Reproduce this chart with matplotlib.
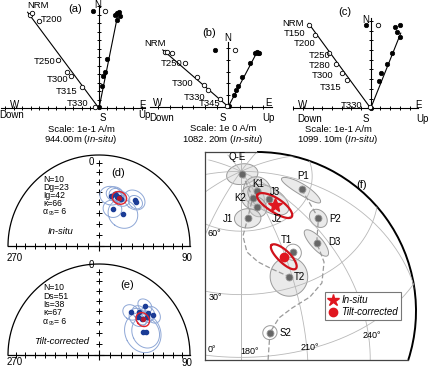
import numpy as np
import matplotlib
matplotlib.use("Agg")
import matplotlib.pyplot as plt
from matplotlib.patches import Arc, Circle
from matplotlib.lines import Line2D

plt.rcParams["font.family"] = ["Liberation Sans", "DejaVu Sans"]
plt.rcParams["mathtext.fontset"] = "custom"
plt.rcParams["mathtext.rm"] = "Liberation Sans"
plt.rcParams["mathtext.it"] = "Liberation Sans:italic"
plt.rcParams["mathtext.bf"] = "Liberation Sans:bold"

W, H = 429, 372

# ---------------- Zijderveld data (units = one axis tick) ----------------
# (a) 944.00 m
a_h_e = [-0.67, 1.88, 2.15, 2.39, 2.47, 2.08, 0.91, 0.71, 0.51, 0.32, 0.0]
a_h_n = [11.45, 10.94, 11.26, 11.38, 10.86, 10.39, 5.76, 4.32, 3.80, 2.62, 0.12]
a_v_up = [0.71, -8.12, -7.85, -7.06, -4.79, -3.73, -3.29, -2.04, -0.47]
a_v_n = [11.45, 10.98, 11.26, 10.32, 5.68, 4.32, 3.80, 2.47, 0.20]
a_fit_h = [2.25, 11.2]
a_fit_v = [-8.4, 11.3]
a_steps = ["NRM", "T200", "T250", "T300", "T315", "T330"]

# (b) 1082.20 m
b_h_e = [-1.14, 2.28, 2.42, 2.56, 2.65, 1.85, 1.14, 0.79, 0.66, 0.49, 0.09]
b_h_n = [4.85, 4.56, 4.70, 4.62, 4.56, 3.70, 2.56, 1.77, 1.43, 1.00, 0.06]
b_v_up = [0.57, -5.41, -5.21, -4.79, -3.70, -2.71, -2.05, -1.71, -0.71, -0.09]
b_v_n = [4.85, 4.70, 4.70, 4.62, 3.76, 2.50, 1.85, 1.43, 0.62, 0.06]
b_fit_h = [2.5, 4.75]
b_fit_v = [-5.6, 4.85]
b_steps = ["NRM", "T250", "T300", "T330", "T345"]

# (c) 1099.10 m
c_h_e = [-0.48, 2.51, 3.02, 2.75, 3.02, 2.16, 1.65, 1.03, 0.82, 0.0]
c_h_n = [8.59, 8.35, 8.59, 7.84, 7.39, 5.67, 4.57, 3.61, 2.86, 0.0]
c_v_up = [0.72, -6.32, -5.74, -4.26, -3.58, -2.99, -2.47, -0.07]
c_v_n = [8.59, 8.59, 7.56, 5.67, 4.57, 3.68, 2.92, 0.10]
c_fit_h = [3.1, 7.75]
c_fit_v = [-6.4, 8.75]
c_steps = ["NRM", "T150", "T200", "T250", "T280", "T300", "T315", "T330"]

# ---------------- site-mean directions ----------------
d_dec = [13.2, 16.9, 18.8, 22.4, 37.6, 39.8, 19.9, 36.7, 20.4, 25.4]
d_inc = [42.5, 40.0, 40.1, 41.6, 36.1, 37.3, 54.1, 53.5, 42.2, 42.0]
d_a95 = [9, 7, 6, 5, 9, 6, 8, 13, 5, 7]
d_stats = ["N=10", "Dg=23", "Ig=42", "\u03ba=66"]
d_mean = (23, 42, 6)

e_dec = [36.9, 43.4, 43.0, 49.8, 53.1, 51.2, 62.9, 64.3, 49.8, 46.2]
e_inc = [41.0, 35.8, 26.8, 29.8, 27.0, 33.1, 44.5, 42.2, 38.6, 40.0]
e_a95 = [7, 6, 6, 6, 7, 5, 17, 13, 5, 8]
e_stats = ["N=10", "Ds=51", "Is=38", "\u03ba=67"]
e_mean = (51, 38, 6)

# ---------------- VGPs / reference poles ----------------
pole_names = ["Q-E", "K1", "K2", "J3", "J2", "J1", "P1", "P2", "D3", "T1", "T2", "S2"]
pole_lat = [88.5, 77.7, 75.6, 71.8, 70.8, 66.1, 63.4, 50.9, 43.6, 45.0, 35.2, 11.2]
pole_lon = [200.0, 215.2, 201.2, 222.7, 202.6, 187.5, 260.2, 246.2, 233.3, 216.0, 208.2, 193.6]
pole_a = [6.7, 7.5, 6.0, 10.0, 5.0, 6.0, 9.5, 4.3, 7.5, 3.8, 9.0, 3.3]
pole_b = [5.3, 6.0, 5.0, 6.0, 4.0, 4.7, 2.8, 4.0, 3.0, 3.8, 9.0, 3.3]
pole_rot = [90, 30, 0, -20, 0, 90, 8, 0, -9, 0, 0, 0]
pole_fill = [1, 1, 1, 1, 1, 1, 1, 1, 1, 0, 1, 0]

study_lat = [68.0, 44.7]      # in-situ, tilt-corrected
study_lon = [224.2, 209.0]
study_a = [9.0, 7.8]
study_b = [3.5, 2.9]
study_rot = [-19, -28]

apwp1_lat = [88.5, 75.6, 66.1, 57.7, 50.0, 44.9, 40.6, 35.2]
apwp1_lon = [200.0, 201.2, 187.5, 181.7, 184.3, 191.3, 199.3, 208.2]
apwp2_lat = [63.4, 50.9, 43.6, 34.7, 27.0, 23.3, 20.8, 17.5, 11.2, -1.9]
apwp2_lon = [260.2, 246.2, 233.3, 230.8, 224.6, 216.1, 205.8, 198.6, 193.6, 192.1]

fig = plt.figure(figsize=(W / 100, H / 100), dpi=100)


def px_axes(l, t, r, b):
    return fig.add_axes([l / W, 1 - b / H, (r - l) / W, (b - t) / H])


def ftext(x, y, s, **kw):
    kw.setdefault("ha", "center")
    kw.setdefault("va", "center")
    kw.setdefault("fontsize", 7)
    fig.text(x / W, 1 - y / H, s, **kw)


def zijderveld(box, origin, sp, xext, ytop, h_e, h_n, v_up, v_n, fit_h, fit_v):
    l, t, r, b = box
    ax = px_axes(l, t, r, b)
    ox, oy = origin
    ax.set_xlim((l - ox) / sp, (r - ox) / sp)
    ax.set_ylim((oy - b) / sp, (oy - t) / sp)
    ax.axis("off")
    ax.plot(xext, [0, 0], color="k", lw=0.8)
    ax.plot([0, 0], [0, ytop], color="k", lw=0.8)
    xt = [i for i in range(int(np.ceil(xext[0])), int(np.floor(xext[1])) + 1) if i != 0]
    ax.plot(xt, np.zeros(len(xt)), ls="none", marker="|", ms=3.5, mew=0.7, color="k")
    yt = np.arange(1, int(np.floor(ytop)) + 1)
    ax.plot(np.zeros(len(yt)), yt, ls="none", marker="_", ms=3.5, mew=0.7, color="k")
    ax.plot([0, fit_h[0]], [0, fit_h[1]], color="k", lw=0.8)
    ax.plot([0, fit_v[0]], [0, fit_v[1]], color="k", lw=0.8)
    ax.plot(h_e, h_n, ls="none", marker="o", ms=3.2, mfc="k", mec="k", mew=0.5)
    ax.plot(v_up, v_n, ls="none", marker="o", ms=3.2, mfc="white", mec="k", mew=0.6)
    return ax


# panel (a)
zijderveld((0, 0, 150, 125), (99, 108.3), 8.5, [-11.5, 5.4], 12.15,
           a_h_e, a_h_n, a_v_up, a_v_n, a_fit_h, a_fit_v)
for s, x, y in zip(a_steps, [38, 52, 45, 58, 67, 78], [6, 20, 62, 80, 91, 104]):
    ftext(x, y, s, fontsize=6.8)
ftext(75, 9, "(a)", fontsize=8)
ftext(98, 5, "N")
ftext(15, 105, "W"); ftext(12, 115, "Down")
ftext(142, 105, "E"); ftext(144, 115, "Up"); ftext(103, 118, "S")
ftext(81, 129, "Scale: 1e-1 A/m", fontsize=6.8)
ftext(81, 139.5, r"944.00m ($\it{In}$-$\it{situ}$)", fontsize=6.8)

# panel (b)
zijderveld((140, 0, 290, 125), (228.3, 106.7), 11.7, [-6.7, 3.7], 5.55,
           b_h_e, b_h_n, b_v_up, b_v_n, b_fit_h, b_fit_v)
for s, x, y in zip(b_steps, [155, 172, 183, 195, 210], [43, 64, 84, 97, 104]):
    ftext(x, y, s, fontsize=6.8)
ftext(209, 33, "(b)", fontsize=8)
ftext(228, 38, "N")
ftext(158, 103, "W"); ftext(162, 118, "Down")
ftext(268, 103, "E"); ftext(268, 118, "Up"); ftext(223, 118, "S")
ftext(223, 128.5, "Scale: 1e 0 A/m", fontsize=6.8)
ftext(223, 139, r"1082. 20m ($\it{In}$-$\it{situ}$)", fontsize=6.8)

# panel (c)
zijderveld((280, 0, 429, 125), (370.7, 108.3), 9.7, [-8.0, 4.9], 9.3,
           c_h_e, c_h_n, c_v_up, c_v_n, c_fit_h, c_fit_v)
for s, x, y in zip(c_steps, [293, 295, 305, 320, 320, 323, 331, 352],
                   [23, 33, 43, 55, 66, 76, 87, 105]):
    ftext(x, y, s, fontsize=6.8)
ftext(345, 12, "(c)", fontsize=8)
ftext(366, 20, "N")
ftext(303, 105, "W"); ftext(310, 119, "Down")
ftext(419, 105, "E"); ftext(422, 119, "Up"); ftext(366, 119, "S")
ftext(338, 129, "Scale: 1e-1 A/m", fontsize=6.8)
ftext(338, 139.5, r"1099. 10m ($\it{In}$-$\it{situ}$)", fontsize=6.8)


# ---------------- equal-area stereonets ----------------
def ea(dec, inc):
    dec, inc = np.asarray(dec, float), np.asarray(inc, float)
    r = np.sqrt(2) * np.sin(np.radians(90 - np.abs(inc)) / 2)
    return r * np.sin(np.radians(dec)), r * np.cos(np.radians(dec))


def cone(dec, inc, a95, n=120):
    d, i = np.radians(dec), np.radians(inc)
    v = np.array([np.cos(i) * np.cos(d), np.cos(i) * np.sin(d), np.sin(i)])
    u1 = np.array([-np.sin(i) * np.cos(d), -np.sin(i) * np.sin(d), np.cos(i)])
    u2 = np.cross(v, u1)
    t = np.linspace(0, 2 * np.pi, n)
    a = np.radians(a95)
    p = np.cos(a) * v[:, None] + np.sin(a) * (np.cos(t) * u1[:, None] + np.sin(t) * u2[:, None])
    dd = np.degrees(np.arctan2(p[1], p[0]))
    ii = np.degrees(np.arcsin(np.clip(p[2], -1, 1)))
    return ea(dd, ii)


def stereonet(box, center, R, decs, incs, a95s, mean):
    l, t, r, b = box
    ax = px_axes(l, t, r, b)
    cx, cy = center
    ax.set_xlim((l - cx) / R, (r - cx) / R)
    ax.set_ylim((cy - b) / R, (cy - t) / R)
    ax.axis("off")
    th = np.linspace(0, np.pi, 200)
    ax.plot(np.cos(th), np.sin(th), color="k", lw=0.9)
    ax.plot([-1, 1], [0, 0], color="k", lw=0.9)
    rt = np.sqrt(2) * np.sin(np.radians(np.arange(10, 90, 10)) / 2)
    ax.plot(np.r_[-rt, rt], np.zeros(2 * len(rt)), ls="none", marker="|", ms=4, mew=0.7, color="k")
    ax.plot(np.zeros(len(rt)), rt, ls="none", marker="+", ms=4.5, mew=0.7, color="k")
    ax.plot([0], [0], marker="+", ms=7, mew=0.8, color="k")
    for d, i, a in zip(decs, incs, a95s):
        x, y = cone(d, i, a)
        ax.plot(x, y, color="#8ea7d6", lw=0.7)
    x, y = ea(decs, incs)
    ax.plot(x, y, ls="none", marker="o", ms=3, color="#1b3c96")
    x, y = cone(*mean)
    ax.plot(x, y, color="#e3242b", lw=1.0)
    x, y = ea(mean[0], mean[1])
    ax.plot(x, y, ls="none", marker="o", ms=2.8, color="#b0182e")
    return ax


def stats_block(x, y0, dy, lines, a95):
    for k, s in enumerate(lines):
        ftext(x, y0 + dy * k, s, ha="left", fontsize=6.2)
    ya = y0 + dy * len(lines) + 0.5
    ftext(x, ya, "\u03b1", ha="left", fontsize=6.2)
    ftext(x + 5.5, ya + 2, "95", ha="left", fontsize=3.6)
    ftext(x + 11, ya, "= %d" % a95, ha="left", fontsize=6.2)


stereonet((0, 150, 200, 272), (99, 246), 91, d_dec, d_inc, d_a95, d_mean)
stats_block(43, 179.5, 7.9, d_stats, d_mean[2])
ftext(60, 232, "In-situ", style="italic", fontsize=6.8)
ftext(118, 173, "(d)", fontsize=8)
ftext(94, 162, "0", ha="right")
ftext(15, 258, "270"); ftext(187, 258, "90")

stereonet((0, 258, 200, 372), (99, 355), 91, e_dec, e_inc, e_a95, e_mean)
stats_block(43, 288, 8.3, e_stats, e_mean[2])
ftext(62, 342, "Tilt-corrected", style="italic", fontsize=6.8)
ftext(127, 285, "(e)", fontsize=8)
ftext(94, 265, "0", ha="right")
ftext(15, 362, "270"); ftext(187, 363, "90")


# ---------------- (f) pole plot, Lambert azimuthal equal-area ----------------
LAT0, LON0 = 35.0, 180.0


def lambert(lat, lon):
    p = np.radians(np.asarray(lat, float))
    lm = np.radians(np.asarray(lon, float) - LON0)
    p0 = np.radians(LAT0)
    k = np.sqrt(2 / (1 + np.sin(p0) * np.sin(p) + np.cos(p0) * np.cos(p) * np.cos(lm)))
    return k * np.cos(p) * np.sin(lm), k * (np.cos(p0) * np.sin(p) - np.sin(p0) * np.cos(p) * np.cos(lm))


def sph_ellipse(lat, lon, a, b, rot, n=120):
    t = np.linspace(0, 2 * np.pi, n)
    r = np.radians(rot)
    nn = a * np.cos(t) * np.cos(r) - b * np.sin(t) * np.sin(r)
    ee = a * np.cos(t) * np.sin(r) + b * np.sin(t) * np.cos(r)
    d = np.radians(np.hypot(nn, ee))
    th = np.arctan2(ee, nn)
    p1, l1 = np.radians(lat), np.radians(lon)
    p2 = np.arcsin(np.sin(p1) * np.cos(d) + np.cos(p1) * np.sin(d) * np.cos(th))
    l2 = l1 + np.arctan2(np.sin(th) * np.sin(d) * np.cos(p1), np.cos(d) - np.sin(p1) * np.sin(p2))
    return np.degrees(p2), np.degrees(l2)


PX0, PY0, K = 241, 284, 122
axf = px_axes(205, 152, 420, 360)
axf.set_xlim((205 - PX0) / K, (420 - PX0) / K)
axf.set_ylim((PY0 - 360) / K, (PY0 - 152) / K)
axf.axis("off")
ccx, ccy, cr = (257 - PX0) / K, (PY0 - 311) / K, 159 / K
clip = Circle((ccx, ccy), cr, transform=axf.transData, fc="none", ec="none")

for lon in range(0, 360, 30):
    la = np.linspace(-40, 90, 200)
    x, y = lambert(la, np.full_like(la, lon))
    ln, = axf.plot(x, y, color="#b8b8b8", lw=0.6)
    ln.set_clip_path(clip)
for lat in (0, 30, 60):
    lo = np.linspace(0, 360, 400)
    x, y = lambert(np.full_like(lo, lat), lo)
    ln, = axf.plot(x, y, color="#b8b8b8", lw=0.6)
    ln.set_clip_path(clip)

for lat, lon, a, b, rot, fill in zip(pole_lat, pole_lon, pole_a, pole_b, pole_rot, pole_fill):
    la, lo = sph_ellipse(lat, lon, a, b, rot)
    x, y = lambert(la, lo)
    fc = (0.82, 0.82, 0.82, 0.45) if fill else (1, 1, 1, 0.3)
    for p in axf.fill(x, y, fc=fc, ec="#9a9a9a", lw=0.7):
        p.set_clip_path(clip)

for la, lo in ((apwp1_lat, apwp1_lon), (apwp2_lat, apwp2_lon)):
    x, y = lambert(la, lo)
    ln, = axf.plot(x, y, color="#9a9a9a", lw=0.9, dashes=(4, 2))
    ln.set_clip_path(clip)

x, y = lambert(pole_lat, pole_lon)
axf.plot(x, y, ls="none", marker="o", ms=5, mfc="#666666", mec="#9a9a9a", mew=0.6)

for lat, lon, a, b, rot in zip(study_lat, study_lon, study_a, study_b, study_rot):
    la, lo = sph_ellipse(lat, lon, a, b, rot)
    x, y = lambert(la, lo)
    axf.plot(x, y, color="#d0121b", lw=1.6)
x, y = lambert(study_lat[:1], study_lon[:1])
axf.plot(x, y, ls="none", marker="*", ms=10, color="#e0161f")
x, y = lambert(study_lat[1:], study_lon[1:])
axf.plot(x, y, ls="none", marker="o", ms=6, color="#e0161f")

# frame: straight edges and the hemisphere arc
x0, x1 = axf.get_xlim()
y0, y1 = axf.get_ylim()
xb = ccx + np.sqrt(cr ** 2 - (y0 - ccy) ** 2)
axf.plot([x0, x0], [y0, y1], color="#444444", lw=0.9, clip_on=False)
axf.plot([x0, ccx], [y1, y1], color="#444444", lw=0.9, clip_on=False)
axf.plot([x0, xb], [y0, y0], color="#444444", lw=0.9, clip_on=False)
th1 = -np.degrees(np.arcsin((ccy - y0) / cr))
axf.add_patch(Arc((ccx, ccy), 2 * cr, 2 * cr, theta1=th1, theta2=90, lw=1.4, color="k", clip_on=False))

for s, x, y in zip(pole_names,
                   [237, 258, 240, 275, 277, 228, 303, 335, 334, 286, 299, 286],
                   [157, 184, 198, 192, 219, 219, 176, 219, 242, 240, 277, 333]):
    ftext(x, y, s)
ftext(362, 185, "(f)", fontsize=8)
ftext(214, 233, "60\u00b0", fontsize=6.5)
ftext(215, 298, "30\u00b0", fontsize=6.5)
ftext(212, 350, "0\u00b0", fontsize=6.5)
ftext(250, 351, "180\u00b0", fontsize=6.5)
ftext(310, 347, "210\u00b0", fontsize=6.5)
ftext(372, 336, "240\u00b0", fontsize=6.5)

handles = [Line2D([], [], ls="none", marker="*", ms=9, color="#e0161f"),
           Line2D([], [], ls="none", marker="o", ms=6, color="#e0161f")]
leg = axf.legend(handles, ["In-situ", "Tilt-corrected"], loc="upper left",
                 bbox_to_anchor=(325 / W, 1 - 292 / H), bbox_transform=fig.transFigure,
                 frameon=True, fancybox=False, edgecolor="#777777", framealpha=1,
                 prop={"style": "italic", "size": 7}, handlelength=1.0,
                 handletextpad=0.4, borderpad=0.3, labelspacing=0.25, borderaxespad=0)
leg.get_frame().set_linewidth(0.8)

fig.savefig("out.png", dpi=100)
